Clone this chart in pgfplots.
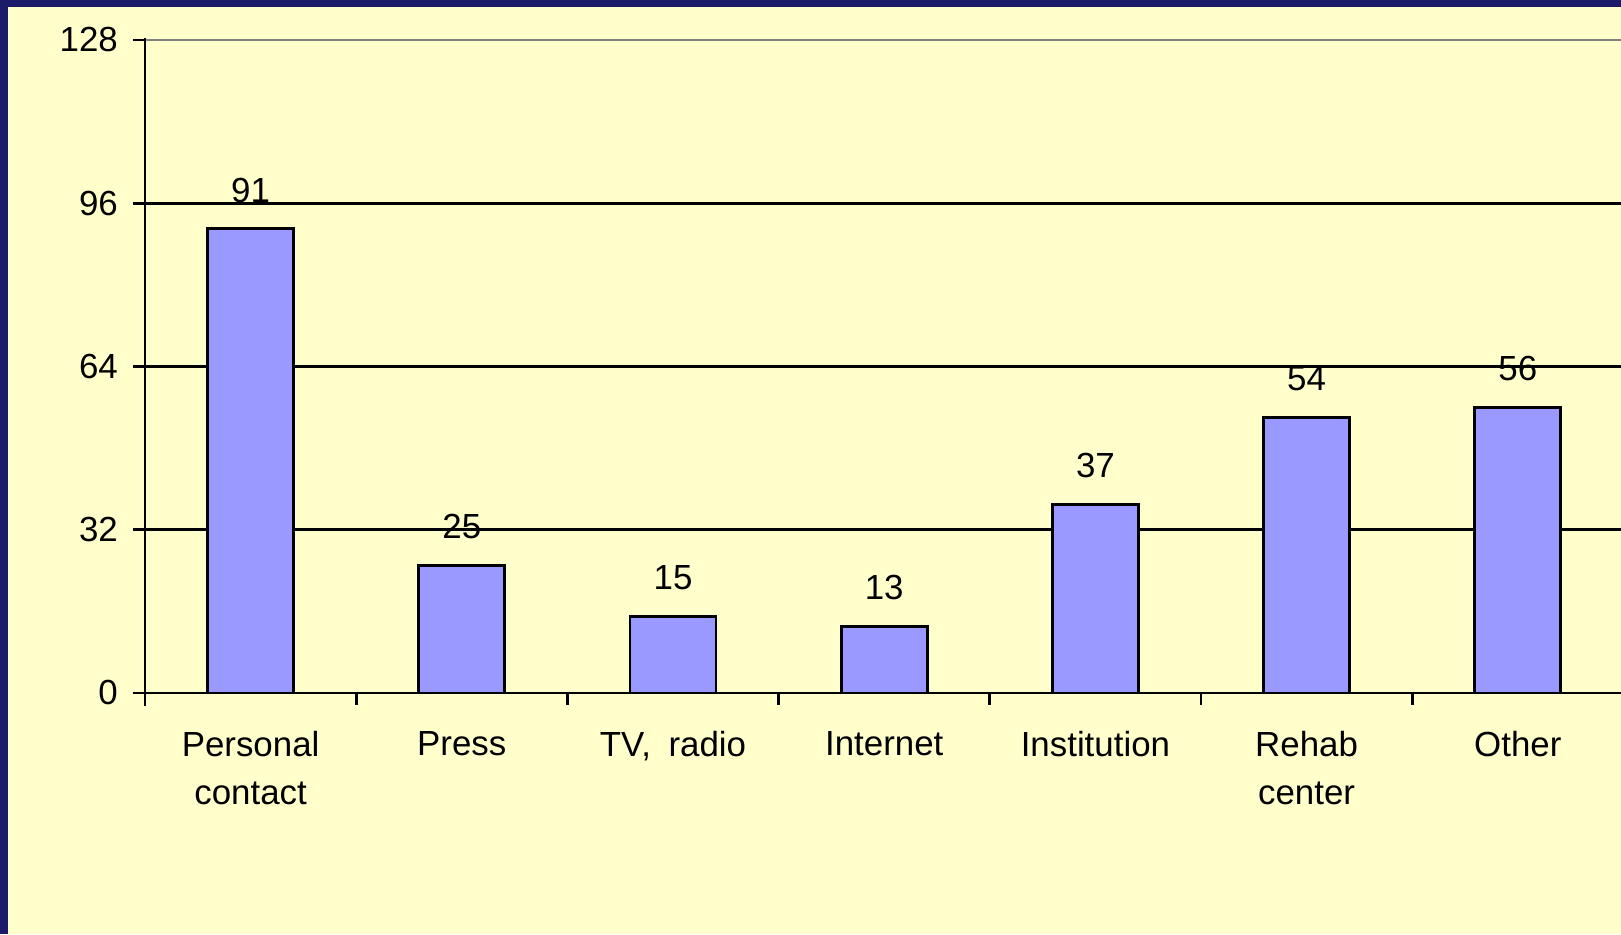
\documentclass[border=0pt]{standalone}
\usepackage{pgfplots}
\pgfplotsset{compat=1.18}
\usepackage{fontspec}
\setmainfont{Liberation Sans}
\definecolor{navybg}{RGB}{27,27,106}
\definecolor{yellowbg}{RGB}{255,255,204}
\definecolor{barblue}{RGB}{153,153,255}
\begin{document}
\begin{tikzpicture}[x=1bp,y=1bp]
\useasboundingbox (0,0) rectangle (1621,934);
\fill[navybg] (0,0) rectangle (1621,934);
\fill[yellowbg] (8,0) rectangle (1621,927);
\begin{axis}[
  at={(145bp,241bp)}, anchor=south west,
  scale only axis, width=1478.4bp, height=653bp,
  xmin=-0.5, xmax=6.5, ymin=0, ymax=128,
  clip=false,
  axis x line=bottom, axis y line=left,
  axis line style={-, line width=2.8bp, black},
  ytick={0,32,64,96},
  extra y ticks={128},
  extra y tick style={grid=none},
  ymajorgrids, major grid style={black, line width=2.8bp},
  xtick={0,1,2,3,4,5,6},
  xticklabels={{Personal\\contact},Press,{TV,\hspace{8bp} radio},Internet,Institution,{Rehab\\center},Other},
  minor xtick={-0.5,0.5,1.5,2.5,3.5,4.5,5.5,6.5},
  tick align=outside,
  major tick length=12bp, minor tick length=12bp,
  major x tick style={draw=none},
  tick style={black, line width=2.8bp},
  /pgf/number format/assume math mode=true,
  ticklabel style={font=\fontsize{35}{48}\selectfont, inner sep=0pt},
  xticklabel style={align=center, yshift=-26bp},
  yticklabel style={xshift=-15bp},
]
\addplot[sharp plot, draw=black, line width=2.8bp, forget plot] coordinates {(-0.5,0) (6.5,0)};
\addplot[ybar, bar width=86bp, fill=barblue, draw=black, line width=2.8bp,
  nodes near coords,
  every node near coord/.append style={font=\fontsize{35}{42}\selectfont, anchor=south, inner sep=0pt, yshift=25bp, black}]
  coordinates {(0,91) (1,25) (2,15) (3,13) (4,37) (5,54) (6,56)};
\addplot[sharp plot, draw=gray, line width=2.8bp, forget plot] coordinates {(-0.5,128) (6.5,128)};
\addplot[sharp plot, draw=black, line width=2.8bp, forget plot] coordinates {(-0.5,-2.5) (-0.5,128.3)};
\end{axis}
\end{tikzpicture}
\end{document}
